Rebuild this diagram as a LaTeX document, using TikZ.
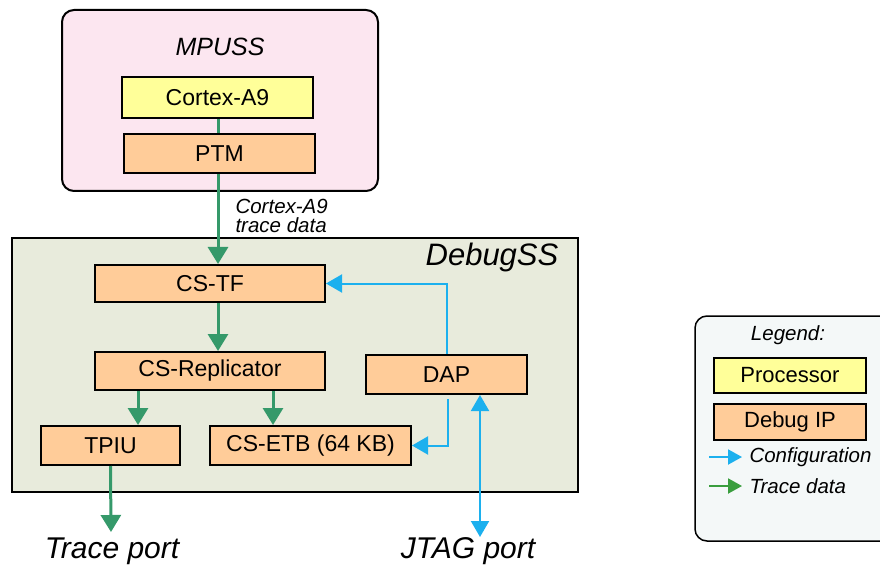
\documentclass[tikz,border=0pt]{standalone}
\usepackage{fontspec}
\setmainfont{Liberation Sans}
\usetikzlibrary{arrows.meta, positioning}
\usepackage{xcolor}

\definecolor{mpussbg}{HTML}{FCE6F0}
\definecolor{debugbg}{HTML}{E8EBDC}
\definecolor{legendbg}{HTML}{F4F8F8}
\definecolor{procyellow}{HTML}{FFFF99}
\definecolor{ipOrange}{HTML}{FFCC99}
\definecolor{traceg}{HTML}{35996A}
\definecolor{legendg}{HTML}{3A9E3E}
\definecolor{cfgblue}{HTML}{1CB0EE}

\begin{document}
\begin{tikzpicture}[
    x=1pt, y=-1pt,
    box/.style={draw=black, line width=2pt, inner sep=0pt, font=\fontsize{23}{26}\selectfont},
    proc/.style={box, fill=procyellow},
    dbgip/.style={box, fill=ipOrange},
    trace/.style={draw=traceg, line width=3pt, -{Triangle[length=17pt, width=20pt]}},
    config/.style={draw=cfgblue, line width=2pt, -{Triangle[length=16pt, width=18pt]}},
    title/.style={font=\fontsize{25}{28}\selectfont\itshape},
    port/.style={font=\fontsize{30}{34}\selectfont\itshape}
]
    \clip (0,0) rectangle (880,569);

    % subsystems
    \node[draw=black, line width=2pt, fill=mpussbg, rounded corners=12pt,
          minimum width=316pt, minimum height=181pt] (mpuss) at (220,100.5) {};
    \node[title] (mpussname) at (220,47) {MPUSS};
    \node[draw=black, line width=2.5pt, fill=debugbg,
          minimum width=566pt, minimum height=254pt] (debugss) at (295,365) {};
    \node[title, font=\fontsize{31}{34}\selectfont\itshape] (debugname) at (492,257) {DebugSS};

    % blocks
    \node[proc, minimum width=191pt, minimum height=41pt] (cortex) at (217.5,97.5) {Cortex-A9};
    \node[dbgip, minimum width=191pt, minimum height=39pt] (ptm) at (219.5,153.5) {PTM};
    \node[dbgip, minimum width=230pt, minimum height=37pt] (cstf) at (210,283.5) {CS-TF};
    \node[dbgip, minimum width=230pt, minimum height=38pt] (repl) at (210,371) {CS-Replicator};
    \node[dbgip, minimum width=161pt, minimum height=39pt] (dap) at (446.5,374.5) {DAP};
    \node[dbgip, minimum width=139pt, minimum height=39pt] (tpiu) at (110.5,445.5) {TPIU};
    \node[dbgip, minimum width=201pt, minimum height=39pt] (etb) at (310.5,445.5) {CS-ETB (64 KB)};

    \node[anchor=west, align=left, font=\fontsize{20.5}{19.5}\selectfont\itshape] (tracelbl) at (232,216) {Cortex-A9\\trace data};

    % ports
    \node[port] (traceport) at (112,551) {Trace port};
    \node[port] (jtagport) at (468,551) {JTAG port};
    \coordinate (tracetip) at (111,532);
    \coordinate (jtagtip) at (480,537);

    % trace data
    \draw[draw=traceg, line width=3pt] ([xshift=0.5pt]cortex.south) -- ([xshift=-1.5pt]ptm.north);
    \draw[trace] ([xshift=-1.5pt]ptm.south) -- ([xshift=-1.5pt]ptm.south |- cstf.north);
    \draw[trace] ([xshift=8pt]cstf.south) -- ([xshift=8pt]repl.north);
    \draw[trace] (repl.south -| 138,0) -- (tpiu.north -| 138,0);
    \draw[trace] (repl.south -| 273,0) -- (etb.north -| 273,0);
    \draw[trace] (tpiu.south) -- (tracetip);

    % configuration
    \draw[config] (dap.north) |- (cstf.east);
    \draw[config] ([xshift=1.5pt, yshift=-4pt]dap.south) |- (etb.east);
    \draw[config, {Triangle[length=16pt, width=18pt]}-{Triangle[length=16pt, width=18pt]}]
        (dap.south -| jtagtip) -- (jtagtip);

    % legend
    \node[draw=black, line width=1.5pt, fill=legendbg, rounded corners=12pt,
          minimum width=210pt, minimum height=225pt] (legend) at (800,428.5) {};
    \node[font=\fontsize{20.5}{24}\selectfont\itshape] (legendname) at (788,335) {Legend:};
    \node[proc, line width=1.5pt, minimum width=152pt, minimum height=35pt, font=\fontsize{22}{25}\selectfont] (lproc) at (790,375.5) {Processor};
    \node[dbgip, line width=1.5pt, minimum width=152pt, minimum height=36pt, font=\fontsize{22}{25}\selectfont] (lip) at (790,422) {Debug IP};
    \node[anchor=west, font=\fontsize{20.5}{24}\selectfont\itshape] (lcfg) at (746,457) {Configuration};
    \node[anchor=west, font=\fontsize{20.5}{24}\selectfont\itshape] (ltrace) at (746,486) {Trace data};
    \coordinate (lcfgstart) at (709,457);
    \coordinate (ltracestart) at (709,486);
    \draw[draw=cfgblue, line width=2pt, -{Triangle[length=14pt, width=15pt]}, shorten >=4pt] (lcfgstart) -- (lcfg.west);
    \draw[draw=legendg, line width=2pt, -{Triangle[length=14pt, width=15pt]}, shorten >=4pt] (ltracestart) -- (ltrace.west);
\end{tikzpicture}
\end{document}
